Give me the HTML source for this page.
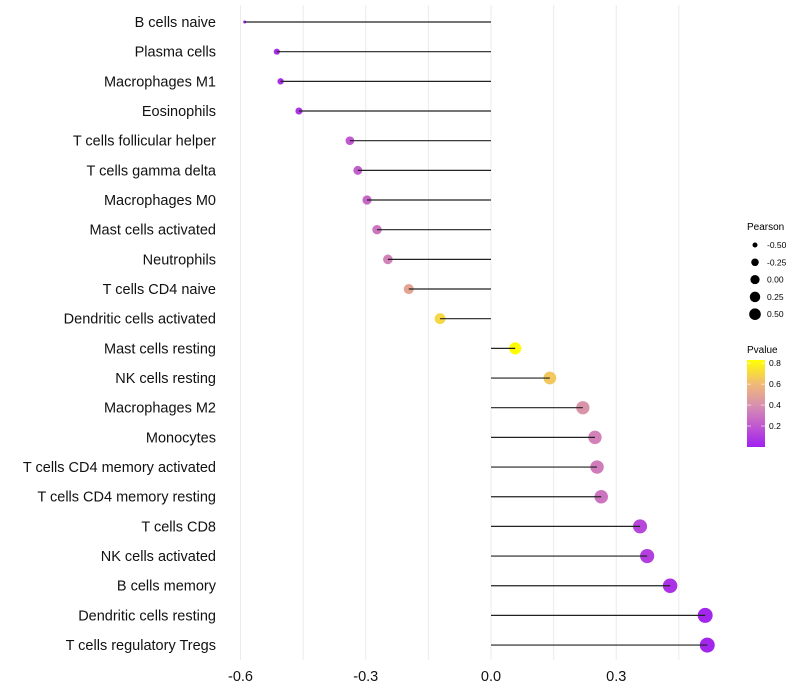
<!DOCTYPE html>
<html><head><meta charset="utf-8"><style>
body{margin:0;background:#fff;font-family:"Liberation Sans",sans-serif}
svg{display:block}
</style></head><body>
<svg id="chart" width="800" height="700" font-family="Liberation Sans, sans-serif">
<g id="grid"></g>
<g id="marks"></g>
<g id="ylab"></g>
<g id="xlab"></g>
<g>
<text x="747" y="230" font-size="10">Pearson</text>
<g id="sizeleg"></g>
</g>
<g>
<defs><linearGradient id="pg" x1="0" y1="1" x2="0" y2="0">
<stop offset="0" stop-color="#a020f0"/><stop offset="0.24" stop-color="#c058d0"/><stop offset="0.48" stop-color="#d890b0"/><stop offset="0.72" stop-color="#f0b878"/><stop offset="1" stop-color="#ffff00"/></linearGradient></defs>
<text x="747" y="353" font-size="10">Pvalue</text>
<rect x="747" y="360" width="18" height="87" fill="url(#pg)"/>
<g id="colleg"></g>
</g>
</svg>
<script>
const categories=["B cells naive","Plasma cells","Macrophages M1","Eosinophils","T cells follicular helper","T cells gamma delta","Macrophages M0","Mast cells activated","Neutrophils","T cells CD4 naive","Dendritic cells activated","Mast cells resting","NK cells resting","Macrophages M2","Monocytes","T cells CD4 memory activated","T cells CD4 memory resting","T cells CD8","NK cells activated","B cells memory","Dendritic cells resting","T cells regulatory  Tregs"];
const pearson=[-0.59,-0.513,-0.504,-0.46,-0.338,-0.319,-0.297,-0.273,-0.247,-0.197,-0.122,0.058,0.141,0.22,0.249,0.254,0.264,0.357,0.374,0.429,0.513,0.518];
const pvalue=[0.01,0.05,0.05,0.07,0.2,0.22,0.25,0.3,0.35,0.5,0.7,0.82,0.65,0.42,0.35,0.33,0.3,0.14,0.11,0.06,0.02,0.02];
const xTicks=[-0.6,-0.3,0.0,0.3];
const xTickLabels=["-0.6","-0.3","0.0","0.3"];
const sizeLegend=[-0.5,-0.25,0,0.25,0.5];
const sizeLegendLabels=["-0.50","-0.25","0.00","0.25","0.50"];
const colLegend=[0.2,0.4,0.6,0.8];
const colLegendLabels=["0.2","0.4","0.6","0.8"];
const NS="http://www.w3.org/2000/svg";
const X=v=>491+v*417.5;
const Y=i=>22+i*29.67;
const R=v=>1.5+6*Math.sqrt(Math.max(0,(v+0.59)/1.11));
const stops=[[0,[160,32,240]],[0.2,[192,88,208]],[0.4,[216,144,176]],[0.6,[240,184,120]],[0.83,[255,255,0]]];
function C(p){for(let k=1;k<stops.length;k++){if(p<=stops[k][0]||k==stops.length-1){const a=stops[k-1],b=stops[k];let t=Math.max(0,Math.min(1,(p-a[0])/(b[0]-a[0])));return"rgb("+a[1].map((c,j)=>Math.round(c+(b[1][j]-c)*t)).join(",")+")";}}}
function el(t,a,par){const e=document.createElementNS(NS,t);for(const k in a)e.setAttribute(k,a[k]);par.appendChild(e);return e;}
const grid=document.getElementById('grid');
for(let v=-0.6;v<=0.46;v+=0.15){const g=el('line',{x1:X(v),x2:X(v),y1:5,y2:660,stroke:'#ebebeb','stroke-width':1},grid);

}
const marks=document.getElementById('marks'),ylab=document.getElementById('ylab'),xlab=document.getElementById('xlab');
categories.forEach((c,i)=>{
const pt=el('circle',{cx:X(pearson[i]),cy:Y(i),r:R(pearson[i]),fill:C(pvalue[i])},marks);


const ln=el('line',{x1:X(0),x2:X(pearson[i]),y1:Y(i),y2:Y(i),stroke:'#222','stroke-width':1.2},marks);


const t=el('text',{x:216,y:Y(i)+5,'text-anchor':'end','font-size':14.5,fill:'#111'},ylab);t.textContent=c;


});
xTicks.forEach((v,i)=>{const t=el('text',{x:X(v),y:681,'text-anchor':'middle','font-size':14.5,fill:'#111'},xlab);t.textContent=xTickLabels[i];

});
const sl=document.getElementById('sizeleg');
sizeLegend.forEach((v,i)=>{const y=245+i*17.3;const c=el('circle',{cx:755,cy:y,r:R(v)*0.78,fill:'#000'},sl);


const t=el('text',{x:767,y:y+3,'font-size':8.5},sl);t.textContent=sizeLegendLabels[i];

});
const cl=document.getElementById('colleg');
colLegend.forEach((v,i)=>{const y=447-v/0.83*87;el('line',{x1:747,x2:751,y1:y,y2:y,stroke:'#fff','stroke-width':0.6},cl);el('line',{x1:761,x2:765,y1:y,y2:y,stroke:'#fff','stroke-width':0.6},cl);
const t=el('text',{x:769,y:y+3,'font-size':8.5},cl);t.textContent=colLegendLabels[i];

});
</script>
</body></html>
